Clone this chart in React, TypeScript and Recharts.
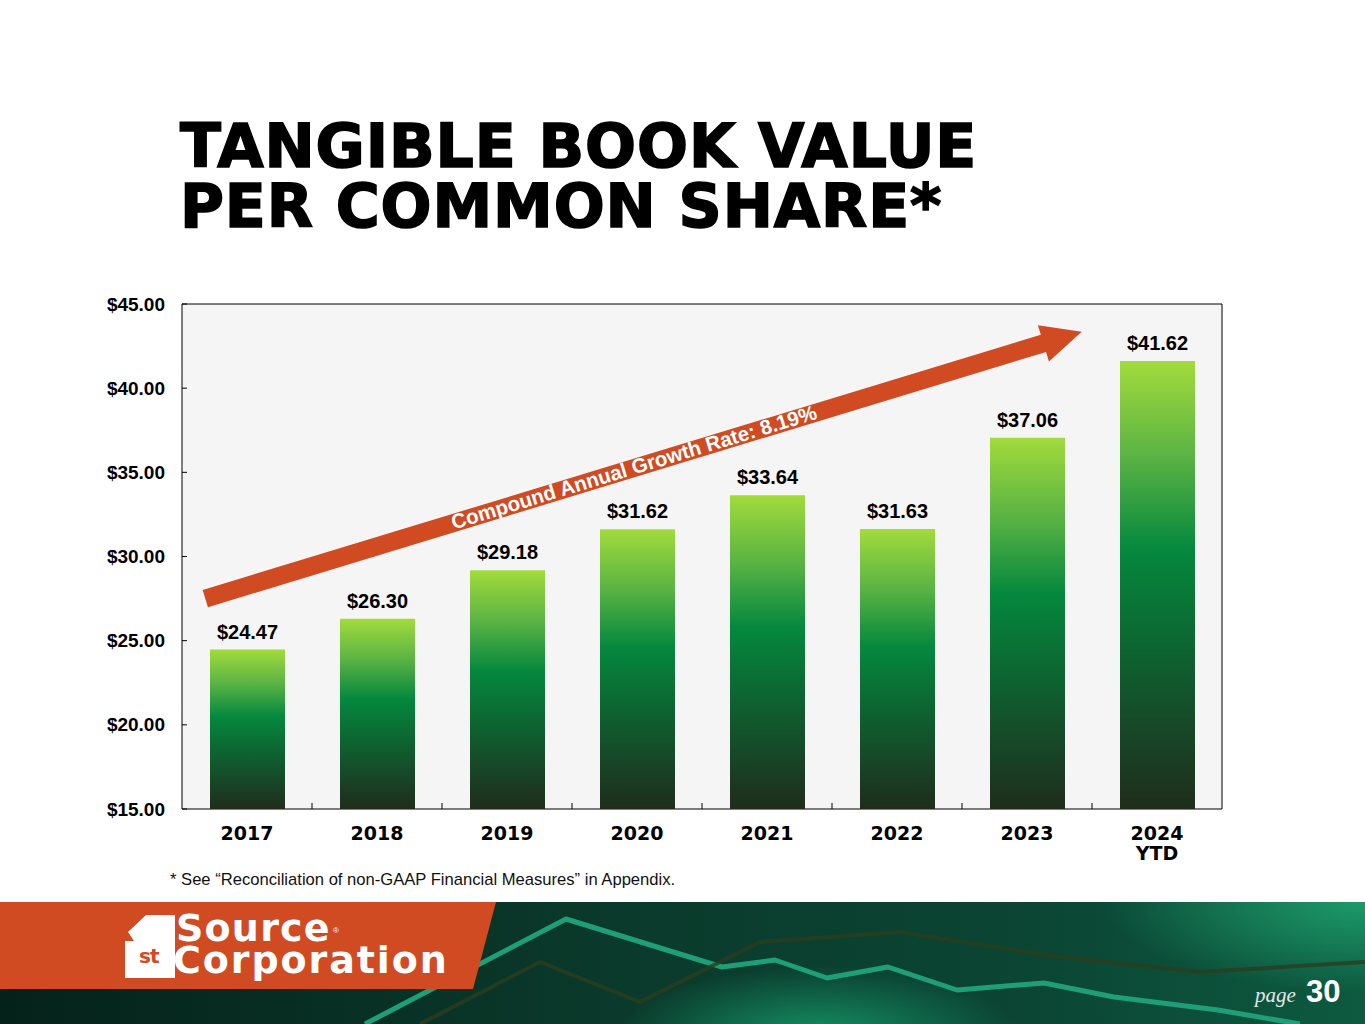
import { Bar, BarChart, CartesianGrid, LabelList, ReferenceArea, XAxis, YAxis } from "recharts";

const YEARS = ["2017", "2018", "2019", "2020", "2021", "2022", "2023", "2024\nYTD"];
const TBV = [24.47, 26.3, 29.18, 31.62, 33.64, 31.63, 37.06, 41.62];
const Y_TICKS = [15, 20, 25, 30, 35, 40, 45];
const TITLE_LINES = ["TANGIBLE BOOK VALUE", "PER COMMON SHARE*"];
const CAGR_LABEL = "Compound Annual Growth Rate: 8.19%";
const FOOTNOTE = "* See \u201cReconciliation of non-GAAP Financial Measures\u201d in Appendix.";

const data = YEARS.map((year, i) => ({ year, tbv: TBV[i] }));

const SANS = "'Liberation Sans', Arial, sans-serif";
const WIDE = "'DejaVu Sans', sans-serif";
const money = (v: number) => `$${v.toFixed(2)}`;

// arrow geometry (decoration over the plot)
const TAIL = [205.3, 598.6];
const TIP = [1081.7, 331.7];
const SHAFT = 9;
const HEAD_LEN = 40;
const HEAD_HALF = 19;

function arrowPoints() {
  const dx = TIP[0] - TAIL[0];
  const dy = TIP[1] - TAIL[1];
  const len = Math.hypot(dx, dy);
  const u = [dx / len, dy / len];
  const n = [-u[1], u[0]];
  const b = [TIP[0] - u[0] * HEAD_LEN, TIP[1] - u[1] * HEAD_LEN];
  const p = (o: number[], k: number) => `${o[0] + n[0] * k},${o[1] + n[1] * k}`;
  return [p(TAIL, -SHAFT), p(b, -SHAFT), p(b, -HEAD_HALF), `${TIP[0]},${TIP[1]}`, p(b, HEAD_HALF), p(b, SHAFT), p(TAIL, SHAFT)].join(" ");
}

// category label + small inward tick on the left edge of each band (except the first)
function YearTick({ x, y, payload, index, width, visibleTicksCount }: any) {
  const lines = String(payload.value).split("\n");
  const band = width && visibleTicksCount ? width / visibleTicksCount : 130;
  return (
    <g>
      {index > 0 && <line x1={x - band / 2} x2={x - band / 2} y1={y - 6} y2={y} stroke="#000" strokeWidth={1} />}
      <text textAnchor="middle" fontFamily={WIDE} fontWeight="bold" fontSize={19} fill="#000">
        {lines.map((l, i) => (
          <tspan key={i} x={x} y={y + 31 + i * 20}>{l}</tspan>
        ))}
      </text>
    </g>
  );
}

// value label + small inward tick from the axis edge
function MoneyTick({ x, y, payload }: any) {
  return (
    <g>
      <line x1={x + 17} x2={x + 22} y1={y} y2={y} stroke="#000" strokeWidth={1} />
      <text x={x} y={y} dy={6.5} textAnchor="end" fontFamily={SANS} fontWeight="bold" fontSize={19} fill="#000">
        {money(Number(payload.value))}
      </text>
    </g>
  );
}

function ValueLabel(props: any) {
  const { x, y, width, value } = props;
  return (
    <text x={Number(x) + Number(width) / 2} y={Number(y) - 11} textAnchor="middle" fontFamily={SANS} fontWeight="bold" fontSize={20} fill="#000">
      {money(Number(value))}
    </text>
  );
}

export default function App() {
  const angle = (Math.atan2(TIP[1] - TAIL[1], TIP[0] - TAIL[0]) * 180) / Math.PI;
  return (
    <div style={{ position: "absolute", left: 0, top: 0, width: 1365, height: 1024, background: "#fff", overflow: "hidden", fontFamily: SANS }}>
      <svg width={1365} height={260} style={{ position: "absolute", left: 0, top: 0 }}>
        {TITLE_LINES.map((t, i) => (
          <text key={t} x={180} y={166.7 + i * 60} fontFamily={WIDE} fontWeight="bold" fontSize={60} letterSpacing={0.9} fill="#000" stroke="#000" strokeWidth={1.6}>
            {t}
          </text>
        ))}
      </svg>

      <div style={{ position: "absolute", left: 0, top: 290 }}>
        <BarChart width={1365} height={600} data={data} margin={{ top: 14, right: 143, bottom: 21, left: 0 }}>
          <defs>
            <linearGradient id="tbvGrad" x1="0" y1="0" x2="0" y2="1">
              <stop offset="0%" stopColor="#a2db3c" />
              <stop offset="22%" stopColor="#58b244" />
              <stop offset="42%" stopColor="#05883e" />
              <stop offset="62%" stopColor="#0c6832" />
              <stop offset="82%" stopColor="#174828" />
              <stop offset="100%" stopColor="#1f2d1a" />
            </linearGradient>
          </defs>
          <CartesianGrid fill="#f5f5f5" horizontal={false} vertical={false} />
          <XAxis
            dataKey="year"
            height={60}
            interval={0}
            tickSize={0}
            tickMargin={0}
            axisLine={false}
            tickLine={false}
            tick={<YearTick />}
          />
          <YAxis
            domain={[15, 45]}
            ticks={Y_TICKS}
            width={182}
            tickSize={0}
            tickMargin={17}
            axisLine={false}
            tickLine={false}
            tick={<MoneyTick />}
          />
          <ReferenceArea y1={15} y2={45} fill="none" stroke="#000" strokeWidth={1} ifOverflow="visible" />
          <Bar dataKey="tbv" fill="url(#tbvGrad)" barSize={75} isAnimationActive={false}>
            <LabelList dataKey="tbv" content={ValueLabel} />
          </Bar>
        </BarChart>
      </div>

      <svg width={1365} height={1024} style={{ position: "absolute", left: 0, top: 0, pointerEvents: "none" }}>
        <polygon points={arrowPoints()} fill="#d04a22" />
        <text
          x={636}
          y={474}
          transform={`rotate(${angle} 636 474)`}
          textAnchor="middle"
          fontFamily={SANS}
          fontWeight="bold"
          fontSize={20.5}
          fill="#fff"
        >
          {CAGR_LABEL}
        </text>
      </svg>

      <div style={{ position: "absolute", left: 170, top: 870, fontSize: 16.6, color: "#111", whiteSpace: "nowrap" }}>{FOOTNOTE}</div>

      <div
        style={{
          position: "absolute",
          left: 0,
          top: 902,
          width: 1365,
          height: 122,
          background:
            "radial-gradient(ellipse 260px 90px at 100% 0%, #1d9a6a 0%, rgba(20,120,80,0) 100%), radial-gradient(ellipse 200px 70px at 60% 110%, #149064 0%, rgba(20,120,80,0) 100%), linear-gradient(90deg, #05221a 0%, #0a3a2b 45%, #0b4534 75%, #0d5a40 100%)",
        }}
      />
      <svg width={1365} height={122} style={{ position: "absolute", left: 0, top: 902 }}>
        <polyline points="365,122 566,17 722,65 775,58 827,76 888,65 957,88 1044,81 1114,95 1218,108 1300,122" fill="none" stroke="#1f9f78" strokeWidth={5} strokeLinejoin="round" />
        <polyline points="420,122 540,60 640,100 760,40 900,30 1060,55 1200,70 1365,60" fill="none" stroke="#2a3d1f" strokeWidth={4} strokeLinejoin="round" opacity={0.8} />
        <polygon points="0,0 496,0 473,87 0,87" fill="#d04a22" />
        <path d="M146,13 H175 V76 H125 V39 H134 L128,30 L146,13 Z" fill="#fff" />
        <text x={139} y={61} fontFamily={WIDE} fontWeight="bold" fontSize={20} fill="#d04a22" letterSpacing={-1}>st</text>
        <text x={176} y={39} fontFamily={WIDE} fontWeight="bold" fontSize={38} fill="#fff" letterSpacing={1.2}>Source</text>
        <text x={333} y={31} fontFamily={SANS} fontSize={8} fill="#fff">®</text>
        <text x={173} y={71} fontFamily={WIDE} fontWeight="bold" fontSize={38} fill="#fff" letterSpacing={1.9}>Corporation</text>
        <text x={1255} y={99.5} fontFamily="'Liberation Serif', serif" fontStyle="italic" fontSize={21} fill="#e6e6e6">page</text>
        <text x={1306} y={99.5} fontFamily={SANS} fontWeight="bold" fontSize={31} fill="#fff">30</text>
      </svg>
    </div>
  );
}
